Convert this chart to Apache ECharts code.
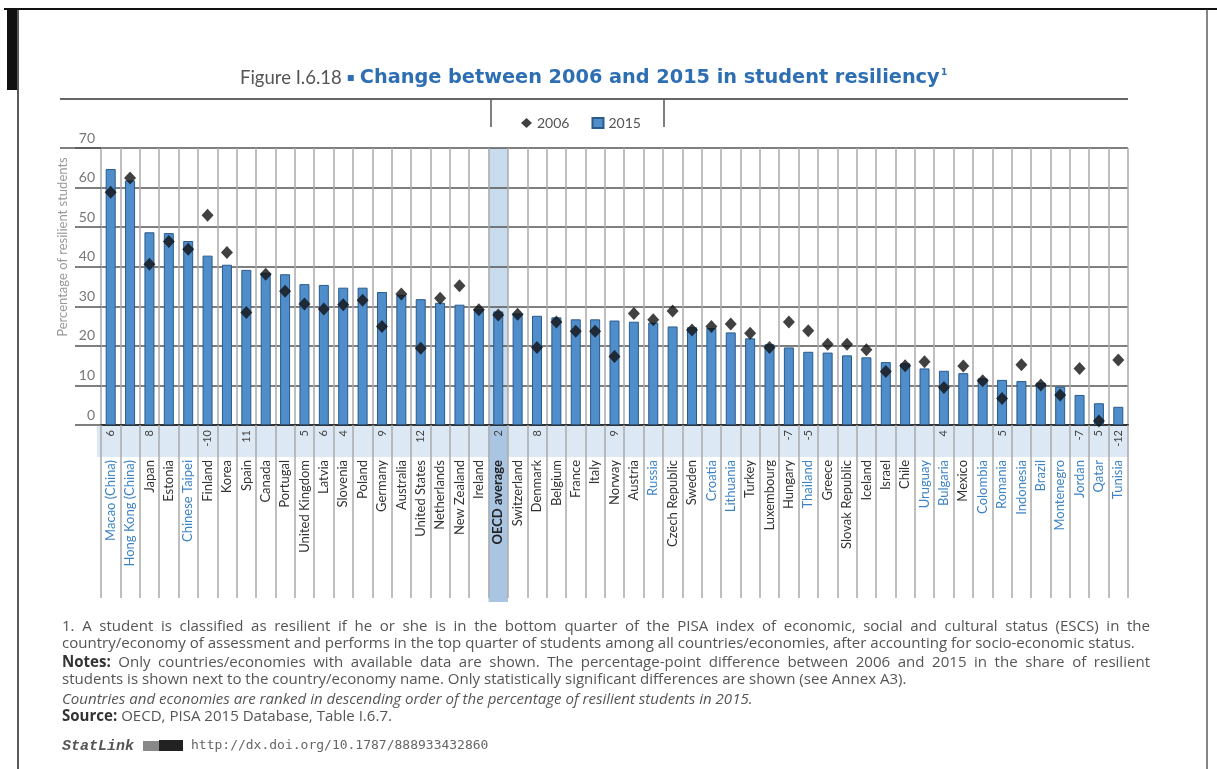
<!DOCTYPE html>
<html><head><meta charset="utf-8">
<script src="https://cdn.jsdelivr.net/npm/echarts@6/dist/echarts.min.js"></script>
<style>html,body{margin:0;padding:0;background:#fff}#c{width:1217px;height:769px}</style>
</head><body><div id="c"></div>
<script>
const categories = ['Macao (China)','Hong Kong (China)','Japan','Estonia','Chinese Taipei','Finland','Korea','Spain','Canada','Portugal','United Kingdom','Latvia','Slovenia','Poland','Germany','Australia','United States','Netherlands','New Zealand','Ireland','OECD average','Switzerland','Denmark','Belgium','France','Italy','Norway','Austria','Russia','Czech Republic','Sweden','Croatia','Lithuania','Turkey','Luxembourg','Hungary','Thailand','Greece','Slovak Republic','Iceland','Israel','Chile','Uruguay','Bulgaria','Mexico','Colombia','Romania','Indonesia','Brazil','Montenegro','Jordan','Qatar','Tunisia'];
const partners = ['Macao (China)','Hong Kong (China)','Chinese Taipei','Russia','Croatia','Lithuania','Thailand','Uruguay','Bulgaria','Colombia','Romania','Indonesia','Brazil','Montenegro','Jordan','Qatar','Tunisia'];
const v2015 = [64.7,61.8,48.7,48.5,46.5,42.8,40.5,39.2,38.5,38.1,35.6,35.4,34.7,34.7,33.6,32.9,31.8,30.9,30.4,29.4,28.7,28.2,27.6,27.2,26.7,26.7,26.4,26.1,25.9,24.9,24.7,24.5,23.4,21.9,20.4,19.6,18.5,18.3,17.6,17.1,15.9,15.6,14.3,13.7,13.1,11.8,11.4,11.1,10.7,9.7,7.6,5.5,4.6];
const v2006 = [58.8,62.4,40.6,46.4,44.4,53.0,43.6,28.4,38.1,33.8,30.6,29.3,30.4,31.5,24.9,33.1,19.4,32.0,35.2,29.1,27.8,28.0,19.6,26.0,23.7,23.7,17.3,28.2,26.6,28.8,24.0,24.9,25.5,23.2,19.6,26.0,23.8,20.4,20.4,19.0,13.5,15.0,16.0,9.5,14.9,11.2,6.7,15.2,10.1,7.6,14.3,1.0,16.4];
const diffs = ['6','','8','','','-10','','11','','','5','6','4','','9','','12','','','','2','','8','','','','9','','','','','','','','','-7','-5','','','','','','','4','','','5','','','','-7','5','-12'];
const seriesNames = ['2006','2015'];
const yAxisTitle = 'Percentage of resilient students';
const titleFig = 'Figure I.6.18';
const titleMain = 'Change between 2006 and 2015 in student resiliency';
const notes = [
  {y:627, justify:true, segs:[{t:'1. A student is classified as resilient if he or she is in the bottom quarter of the PISA index of economic, social and cultural status (ESCS) in the'}]},
  {y:644, justify:false, segs:[{t:'country/economy of assessment and performs in the top quarter of students among all countries/economies, after accounting for socio-economic status.'}]},
  {y:663, justify:true, segs:[{t:'Notes:', b:true},{t:'Only countries/economies with available data are shown. The percentage-point difference between 2006 and 2015 in the share of resilient'}]},
  {y:680, justify:false, segs:[{t:'students is shown next to the country/economy name. Only statistically significant differences are shown (see Annex A3).'}]},
  {y:700, justify:false, segs:[{t:'Countries and economies are ranked in descending order of the percentage of resilient students in 2015.', i:true}]},
  {y:717, justify:false, segs:[{t:'Source:', b:true},{t:'OECD, PISA 2015 Database, Table I.6.7.'}]}
];
const statLinkUrl = 'http://dx.doi.org/10.1787/888933432860';

const GL = 101, GR = 1128, GT = 148, GB = 425;
const chart = echarts.init(document.getElementById('c'));
chart.setOption({
  animation:false,
  backgroundColor:'#ffffff',
  grid:{left:GL, right:1217-GR, top:GT, bottom:769-GB},
  legend:{
    data:[{name:seriesNames[0], icon:'diamond'},{name:seriesNames[1], icon:'rect'}],
    left:516, top:111, itemWidth:11, itemHeight:10, itemGap:22,
    textStyle:{fontFamily:'Lato', fontSize:14, color:'#555'}
  },
  xAxis:[{
    type:'category', data:categories, position:'bottom',
    axisLine:{lineStyle:{color:'#333', width:2}},
    axisTick:{show:true, interval:0, length:173, lineStyle:{color:'#aaa', width:1.5}},
    splitLine:{show:true, interval:0, lineStyle:{color:'#aaa', width:1.5}},
    axisLabel:{interval:0, rotate:90, margin:5, fontFamily:'Lato', fontSize:11, color:'#444',
      formatter:(v,i)=>diffs[i]}
  },{
    type:'category', data:categories, position:'bottom',
    axisLine:{show:false}, axisTick:{show:false}, splitLine:{show:false},
    axisLabel:{interval:0, rotate:90, margin:35, fontFamily:'Lato', fontSize:13,
      color:(v)=>partners.indexOf(v)>=0 ? '#3d84c6' : '#333',
      formatter:(v)=> v==='OECD average' ? '{b|'+v+'}' : v,
      rich:{b:{fontFamily:'Lato', fontSize:13, fontWeight:'bold', color:'#222'}}}
  }],
  yAxis:{
    type:'value', min:0, max:70, interval:10,
    axisLine:{show:false},
    axisTick:{show:true, length:26, lineStyle:{color:'#555', width:1.5}},
    splitLine:{lineStyle:{color:'#555', width:1.5}},
    axisLabel:{margin:6, verticalAlign:'bottom', padding:[0,0,3,0], fontFamily:'Lato', fontSize:14, color:'#777'}
  },
  series:[{
    name:seriesNames[1], type:'bar', data:v2015, barWidth:10, z:2,
    itemStyle:{color:'#4f8dcb', borderColor:'#2b5b8a', borderWidth:1}
  },{
    name:seriesNames[0], type:'scatter', data:v2006, symbol:'diamond', symbolSize:[12,13], z:3,
    itemStyle:{color:'#111'}
  }]
});

const ctx = document.createElement('canvas').getContext('2d');
function mw(text, size, family, weight, style){
  ctx.font = (style||'normal')+' '+(weight||'normal')+' '+size+'px "'+family+'"';
  return ctx.measureText(text).width;
}
const els = [];
// frame
els.push({type:'line', shape:{x1:4,y1:9,x2:1217,y2:9}, style:{stroke:'#111', lineWidth:2}});
els.push({type:'line', shape:{x1:18,y1:9,x2:18,y2:769}, style:{stroke:'#222', lineWidth:1.5}});
els.push({type:'line', shape:{x1:1207,y1:9,x2:1207,y2:769}, style:{stroke:'#333', lineWidth:1.2}});
els.push({type:'rect', shape:{x:7,y:10,width:10,height:80}, style:{fill:'#111'}});
// top rule & legend separators
els.push({type:'line', shape:{x1:60,y1:99,x2:GR,y2:99}, style:{stroke:'#666', lineWidth:2}});
els.push({type:'line', shape:{x1:491,y1:99,x2:491,y2:127}, style:{stroke:'#555', lineWidth:1.5}});
els.push({type:'line', shape:{x1:664,y1:99,x2:664,y2:127}, style:{stroke:'#555', lineWidth:1.5}});
els.push({type:'line', shape:{x1:60,y1:GT,x2:GL,y2:GT}, style:{stroke:'#555', lineWidth:1.5}});
// title
const tx0 = 240, ty = 78;
els.push({type:'text', x:tx0, y:ty, style:{text:titleFig, fontFamily:'Lato', fontSize:18.5, fill:'#555', verticalAlign:'middle', align:'left'}});
const figW = mw(titleFig,18.5,'Lato');
els.push({type:'rect', shape:{x:tx0+figW+6, y:ty-3, width:6, height:6}, style:{fill:'#2e6fb4'}});
const mainX = tx0+figW+18, mainEnd = 940;
const mainSize = 100*(mainEnd-mainX)/mw(titleMain,100,'DejaVu Sans','bold');
els.push({type:'text', x:mainX, y:ty, style:{text:titleMain, fontFamily:'DejaVu Sans', fontWeight:'bold', fontSize:mainSize, fill:'#2e6fb4', verticalAlign:'middle', align:'left'}});
els.push({type:'text', x:mainEnd+1, y:ty-5, style:{text:'1', fontFamily:'DejaVu Sans', fontWeight:'bold', fontSize:9, fill:'#2e6fb4', verticalAlign:'middle', align:'left'}});
// y axis title
els.push({type:'text', x:63, y:247, rotation:Math.PI/2, style:{text:yAxisTitle, fontFamily:'Lato', fontSize:13, fill:'#999', align:'center', verticalAlign:'middle'}});
// band under axis for differences
els.push({type:'rect', z:-2, shape:{x:97, y:GB+1, width:GR-97, height:31}, style:{fill:'#dce8f4'}});
// OECD highlight through library scales
const cx = chart.convertToPixel({xAxisIndex:0}, 'OECD average');
const cw = (chart.convertToPixel({xAxisIndex:0}, categories[1]) - chart.convertToPixel({xAxisIndex:0}, categories[0]));
const yTop = chart.convertToPixel({yAxisIndex:0}, 70), yZero = chart.convertToPixel({yAxisIndex:0}, 0);
els.push({type:'rect', z:-1, shape:{x:cx-cw/2, y:yTop, width:cw, height:yZero-yTop}, style:{fill:'#c9dcee'}});
els.push({type:'rect', z:-1, shape:{x:cx-cw/2, y:yZero+1, width:cw, height:176}, style:{fill:'#a9c5e2'}});
// footnotes
const NF = 'Open Sans';
const fs = 100*(1135-62)/mw(notes[1].segs[0].t,100,NF);
notes.forEach(line=>{
  const words = [];
  line.segs.forEach(s=>s.t.split(' ').forEach(w=>{ if(w) words.push({t:w,b:s.b,i:s.i}); }));
  const widths = words.map(w=>mw(w.t,fs,NF,w.b?'bold':'normal',w.i?'italic':'normal'));
  const sum = widths.reduce((a,b)=>a+b,0);
  const gap = line.justify ? (1150-62-sum)/(words.length-1) : mw(' ',fs,NF);
  let x = 62;
  words.forEach((w,k)=>{
    els.push({type:'text', x:x, y:line.y, style:{text:w.t, fontFamily:NF, fontSize:fs, fontWeight:w.b?'bold':'normal', fontStyle:w.i?'italic':'normal', fill:w.b?'#333':'#555', verticalAlign:'middle', align:'left'}});
    x += widths[k] + gap;
  });
});
// StatLink
els.push({type:'text', x:62, y:746, style:{text:'StatLink', fontFamily:'Liberation Mono', fontWeight:'bold', fontStyle:'italic', fontSize:15, fill:'#555', verticalAlign:'middle', align:'left'}});
els.push({type:'rect', shape:{x:143, y:741, width:16, height:10}, style:{fill:'#888'}});
els.push({type:'rect', shape:{x:159, y:740, width:24, height:11}, style:{fill:'#222'}});
els.push({type:'text', x:191, y:746, style:{text:statLinkUrl, fontFamily:'DejaVu Sans Mono', fontSize:13, fill:'#666', verticalAlign:'middle', align:'left'}});
chart.setOption({graphic:{elements:els}});
</script></body></html>
